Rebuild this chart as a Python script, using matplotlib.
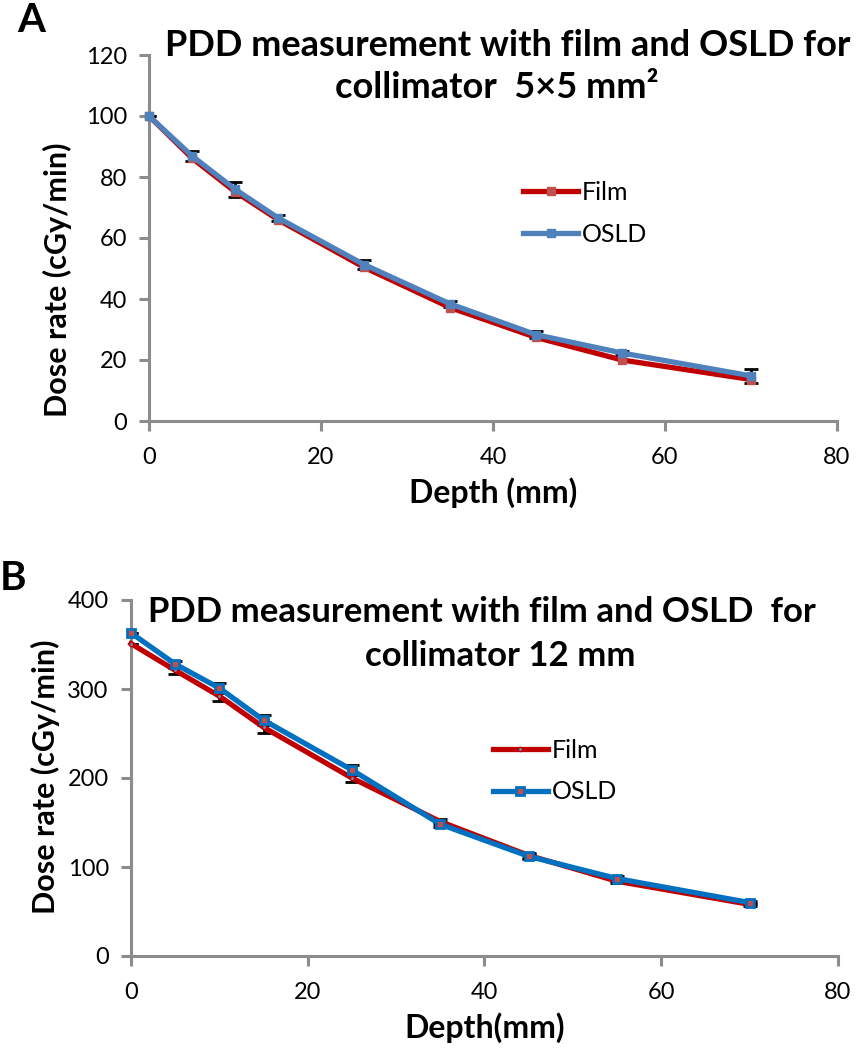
import numpy as np
import matplotlib
matplotlib.use("Agg")
import matplotlib.pyplot as plt

plt.rcParams["font.family"] = ["Lato", "DejaVu Sans"]

# depth points (mm)
depth = [0, 5, 10, 15, 25, 35, 45, 55, 70]

# Panel A: collimator 5x5 mm^2
film_a = [100, 86.2, 75.2, 66.0, 50.4, 37.2, 27.4, 20.0, 13.6]
osld_a = [100, 86.9, 76.0, 66.6, 51.3, 38.4, 28.3, 22.3, 14.8]
osld_a_err = [0, 1.5, 2.5, 1.0, 1.5, 1.0, 1.2, 0.8, 2.2]

# Panel B: collimator 12 mm
film_b = [351, 321, 292, 257, 200, 151, 113, 84, 58]
osld_b = [363, 328, 301, 265, 209, 148, 112, 87, 60]
film_b_err = [0, 4, 6, 6, 5, 3, 3, 2, 2]
osld_b_err = [0, 4, 6, 6, 6, 3, 3, 3, 2]

W, H = 859, 1050
fig = plt.figure(figsize=(W / 100, H / 100), dpi=100)


def px_axes(left, top, right, bottom):
    return fig.add_axes([left / W, 1 - bottom / H, (right - left) / W, (bottom - top) / H])


def style_axes(ax, ymax, ystep):
    for s in ["top", "right"]:
        ax.spines[s].set_visible(False)
    for s in ["left", "bottom"]:
        ax.spines[s].set_color("#8c8c8c")
        ax.spines[s].set_linewidth(2.2)
    ax.tick_params(colors="#8c8c8c", width=2.2, length=7, labelsize=17, labelcolor="black")
    ax.set_xlim(0, 80)
    ax.set_ylim(0, ymax)
    ax.set_xticks(np.arange(0, 81, 20))
    ax.set_yticks(np.arange(0, ymax + 1, ystep))
    ax.tick_params(axis="y", pad=9)
    ax.tick_params(axis="x", pad=12)


leg_kw = dict(loc="center left", frameon=False, fontsize=18, handlelength=2.2,
              handletextpad=0.15, labelspacing=0.75, borderpad=0, borderaxespad=0)

# ---- panel A ----
axA = px_axes(149, 55, 837, 421)
style_axes(axA, 120, 20)
axA.errorbar(depth, osld_a, yerr=osld_a_err, fmt="none", ecolor="black",
             elinewidth=2, capsize=5, capthick=2, zorder=2)
axA.plot(depth, film_a, "-s", color="#c00000", lw=3.8, ms=6,
         mfc="#c0504d", mec="#c0504d", label="Film", clip_on=False, zorder=3)
axA.plot(depth, osld_a, "-s", color="#4f81bd", lw=3.8, ms=6,
         mfc="#4f81bd", mec="#4f81bd", label="OSLD", clip_on=False, zorder=4)
axA.set_xlabel("Depth (mm)", fontsize=23, fontweight="bold")
axA.xaxis.set_label_coords(0.5, -0.155)
axA.set_ylabel("Dose rate (cGy/min)", fontsize=22, fontweight="bold")
axA.yaxis.set_label_coords(-0.112, 0.385)
axA.legend(bbox_to_anchor=(0.544, 0.567), **leg_kw)

fig.text(508 / W, 1 - 45 / H, "PDD measurement with film and OSLD for",
         ha="center", va="center", fontsize=26, fontweight="bold")
fig.text(497 / W, 1 - 88 / H, "collimator  5\u00d75 mm\u00b2",
         ha="center", va="center", fontsize=26, fontweight="bold")
fig.text(17 / W, 1 - 20 / H, "A", ha="left", va="center", fontsize=29, fontweight="bold")

# ---- panel B ----
axB = px_axes(131, 600, 838, 956)
style_axes(axB, 400, 100)
axB.errorbar(depth, film_b, yerr=film_b_err, fmt="none", ecolor="black",
             elinewidth=2, capsize=5, capthick=2, zorder=2)
axB.errorbar(depth, osld_b, yerr=osld_b_err, fmt="none", ecolor="black",
             elinewidth=2, capsize=5, capthick=2, zorder=2)
axB.plot(depth, film_b, "-o", color="#c00000", lw=3.8, ms=3,
         mfc="#5b9bd5", mec="#c00000", label="Film", clip_on=False, zorder=3)
axB.plot(depth, osld_b, "-s", color="#0070c0", lw=3.8, ms=6,
         mfc="#c0504d", mec="#0070c0", mew=2, label="OSLD", clip_on=False, zorder=4)
axB.set_xlabel("Depth(mm)", fontsize=23, fontweight="bold")
axB.xaxis.set_label_coords(0.5, -0.158)
axB.set_ylabel("Dose rate (cGy/min)", fontsize=22, fontweight="bold")
axB.yaxis.set_label_coords(-0.100, 0.504)
axB.legend(bbox_to_anchor=(0.512, 0.52), **leg_kw)

fig.text(482 / W, 1 - 612 / H, "PDD measurement with film and OSLD  for",
         ha="center", va="center", fontsize=25, fontweight="bold")
fig.text(500 / W, 1 - 656 / H, "collimator 12 mm",
         ha="center", va="center", fontsize=25, fontweight="bold")
fig.text(0 / W, 1 - 579 / H, "B", ha="left", va="center", fontsize=29, fontweight="bold")

fig.savefig("out.png", dpi=100)
